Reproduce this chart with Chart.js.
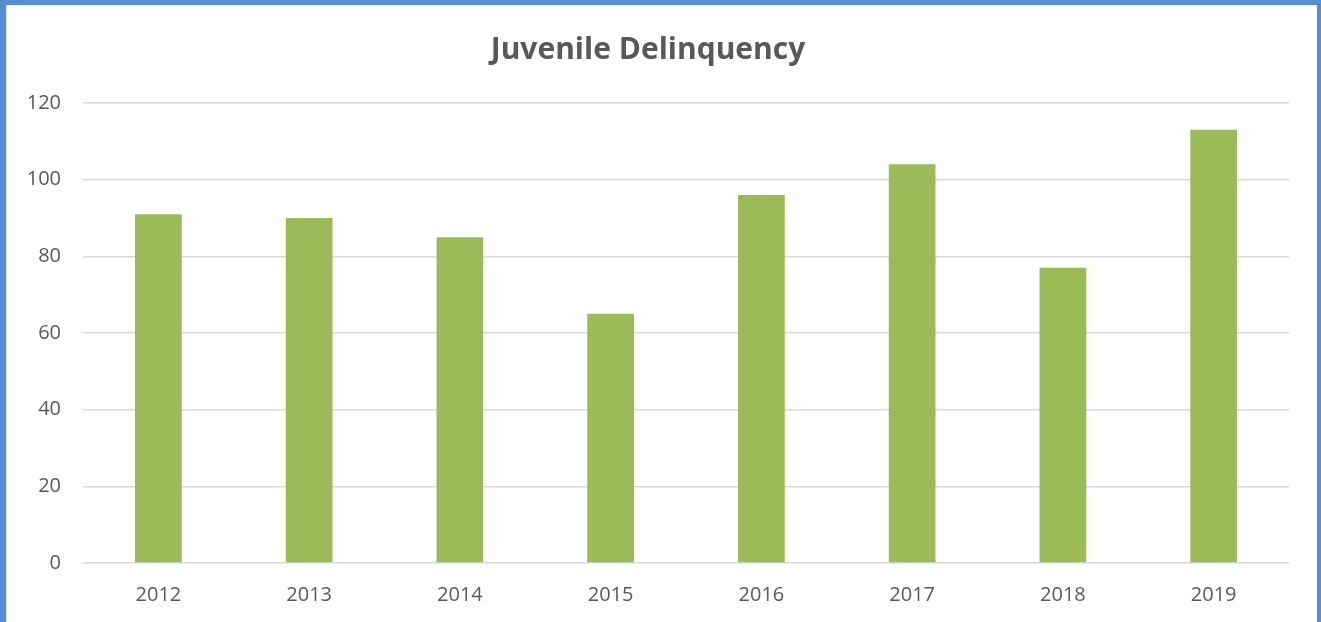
<!DOCTYPE html>
<html>
<head>
<meta charset="utf-8">
<script src="https://cdn.jsdelivr.net/npm/chart.js@4"></script>
<style>
  html, body { margin: 0; padding: 0; background: #fff; }
  #frame {
    position: absolute; left: 0; top: 0;
    width: 1321px; height: 622px; box-sizing: border-box;
    border-top: 5px solid #558ED5;
    border-left: 6px solid #558ED5;
    border-right: 4px solid #558ED5;
  }
  #inner { position: absolute; left: 0; top: 0; width: 1311px; height: 617px; border-left: 1px solid #e0e0e0; box-sizing: border-box; }
</style>
</head>
<body>
<div id="frame"><div id="inner"><canvas id="myChart"></canvas></div></div>
<script>
const years = ['2012', '2013', '2014', '2015', '2016', '2017', '2018', '2019']
const cases = [91, 90, 85, 65, 96, 104, 77, 113]
const yTicks = [0, 20, 40, 60, 80, 100, 120]

const ctx = document.getElementById('myChart')
const gray = '#595959'

new Chart(ctx, {
    type: 'bar',
    data: {
        labels: years,
        datasets: [{
            label: 'Juvenile Delinquency',
            data: cases,
            backgroundColor: '#9BBB59',
            categoryPercentage: 1,
            barPercentage: 0.31
        }]
    },
    options: {
        responsive: true,
        maintainAspectRatio: false,
        animation: false,
        layout: { padding: { left: 0, right: 28, top: 0, bottom: 0 } },
        plugins: {
            legend: { display: false },
            tooltip: { enabled: false },
            title: {
                display: true,
                text: 'Juvenile Delinquency',
                color: gray,
                font: { family: 'Open Sans', size: 30, weight: 'bold' },
                padding: { top: 27, bottom: 35 }
            }
        },
        scales: {
            x: {
                grid: { display: false },
                border: { display: false },
                ticks: { color: gray, font: { family: 'Open Sans', size: 20 }, padding: 12 },
                afterFit: axis => { axis.height = 59 }
            },
            y: {
                min: 0,
                max: 120,
                afterBuildTicks: axis => { axis.ticks = yTicks.map(v => ({ value: v })) },
                grid: { color: '#D9D9D9', lineWidth: 1.5, drawTicks: false },
                border: { display: false },
                ticks: { color: gray, font: { family: 'Open Sans', size: 20 }, padding: 22 },
                afterFit: axis => { axis.width = 76 }
            }
        }
    }
})
</script>
</body>
</html>
